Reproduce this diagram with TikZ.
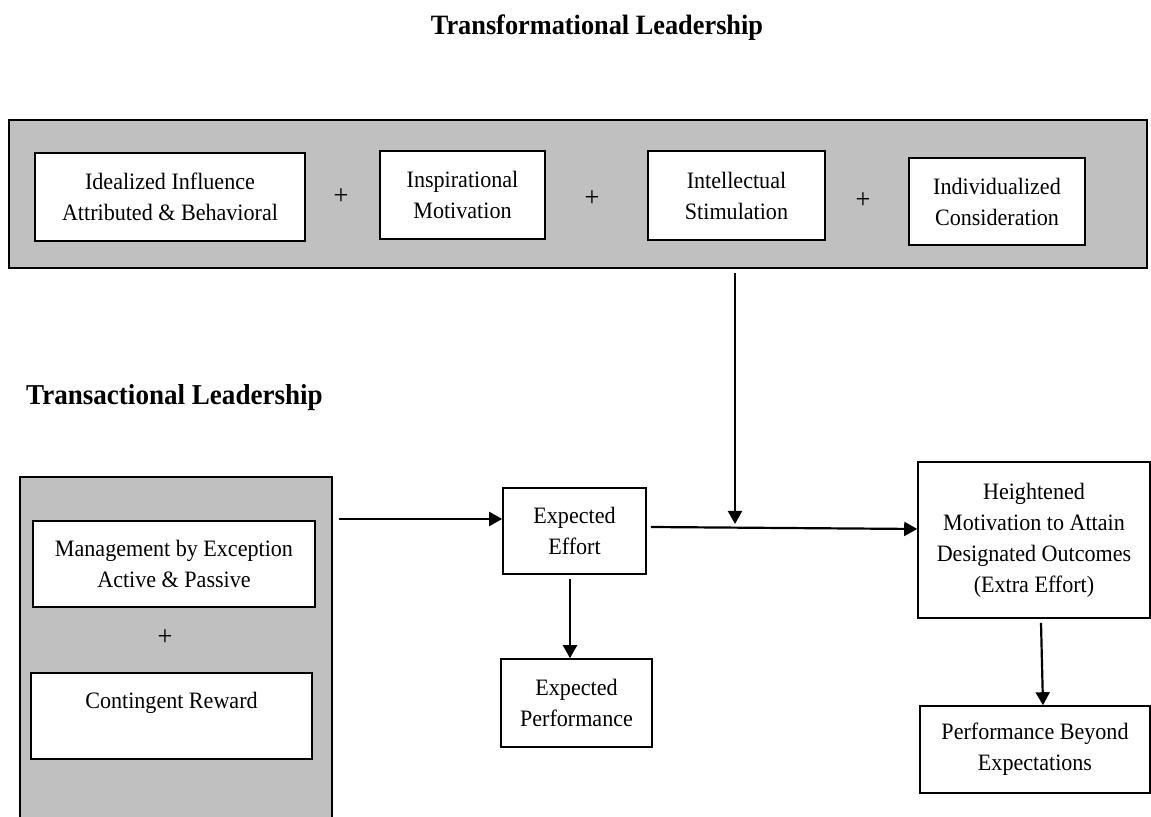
\documentclass[tikz,border=0pt]{standalone}
\usepackage{fontspec}
\setmainfont{Liberation Serif}[FakeStretch=0.94]
\usetikzlibrary{arrows.meta,calc}
\definecolor{panelgray}{RGB}{192,192,192}
\newcommand\bodyfnt{\fontsize{11.75}{15.5}\selectfont}
\newcommand\headfnt{\fontsize{14}{16}\selectfont\bfseries}
\newcommand\plusfnt{\fontsize{14}{16}\selectfont}
\begin{document}
\begin{tikzpicture}[x=0.5pt,y=-0.5pt,
  panel/.style={draw=black,line width=0.8pt,fill=panelgray,inner sep=0pt},
  box/.style={draw=black,line width=0.8pt,fill=white,align=center,inner sep=0pt,font=\bodyfnt},
  plus/.style={font=\plusfnt,inner sep=0pt},
  head/.style={font=\headfnt,inner sep=0pt},
  arr/.style={line width=1.1pt,-{Triangle[length=6.5pt,width=7pt]}}]
\useasboundingbox[fill=white] (0,0) rectangle (1151,817);
% titles
\node[head] (t1) at (597,28) {Transformational Leadership};
\node[head,font=\fontsize{14.4}{16}\selectfont\bfseries] (t2) at (174.5,398) {Transactional Leadership};
% panels
\node[panel,minimum width=569pt,minimum height=74pt] (tf) at (578,194) {};
\node[panel,minimum width=156pt,minimum height=181.5pt] (tr) at (176,658.5) {};
% transformational boxes
\node[box,minimum width=135pt,minimum height=44pt] (b1) at (170,197) {Idealized Influence\\Attributed \& Behavioral};
\node[plus] (p1) at (341,197) {+};
\node[box,minimum width=82.5pt,minimum height=44pt] (b2) at (462.5,195) {Inspirational\\Motivation};
\node[plus] (p2) at (592,199) {+};
\node[box,minimum width=88.5pt,minimum height=44.5pt] (b3) at (736.5,195.5) {Intellectual\\Stimulation};
\node[plus] (p3) at (863,201) {+};
\node[box,minimum width=88pt,minimum height=43.5pt] (b4) at (997,201.5) {Individualized\\Consideration};
% transactional boxes
\node[box,minimum width=141pt,minimum height=43pt] (mbe) at (174,564) {Management by Exception\\Active \& Passive};
\node[plus] (p4) at (165,638) {+};
\node[box,minimum width=140.5pt,minimum height=43pt] (cr) at (171.5,716) {Contingent Reward\\\mbox{}};
% outcome boxes
\node[box,minimum width=71.5pt,minimum height=43pt] (ee) at (574.5,531) {Expected\\Effort};
\node[box,minimum width=75.5pt,minimum height=44pt] (ep) at (576.5,703) {Expected\\Performance};
\node[box,minimum width=116pt,minimum height=78pt] (hm) at (1034,540) {Heightened\\Motivation to Attain\\Designated Outcomes\\(Extra Effort)};
\node[box,minimum width=115pt,minimum height=43.5pt] (pb) at (1035,749.5) {Performance Beyond\\Expectations};
% connectors
\coordinate (j) at (735,524);
\draw[arr] ($(tr.east |- ee.west)+(6,-12)$) -- ($(ee.west)+(0,-12)$);
\draw[arr] ($(ee.south)+(-4.5,4)$) -- ($(ee.south |- ep.north)+(-4.5,0)$);
\draw[arr] ($(ee.east)+(4,-4)$) -- ($(hm.west)+(0,-11)$);
\draw[arr] ($(tf.south -| j)+(0,4)$) -- (j);
\draw[arr] ($(hm.south)+(7,4)$) -- ($(pb.north)+(8,0)$);
\end{tikzpicture}
\end{document}
